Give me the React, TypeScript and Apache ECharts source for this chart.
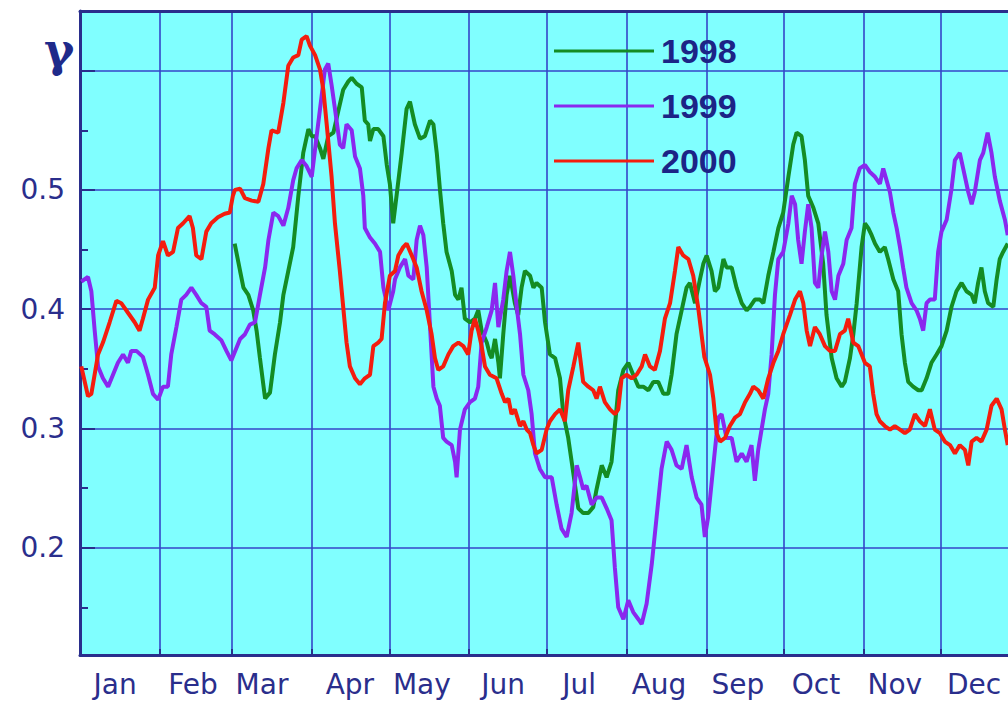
import React, { useEffect, useRef } from 'react';
import * as echarts from 'echarts';

const months = ['Jan', 'Feb', 'Mar', 'Apr', 'May', 'Jun', 'Jul', 'Aug', 'Sep', 'Oct', 'Nov', 'Dec'];
const monthStartDays = [31, 59, 90, 120, 151, 181, 212, 243, 273, 304, 334];
const monthLabelDays = [13.6, 43.8, 70.6, 104.7, 132.6, 164.1, 193.6, 224.6, 255.2, 285.5, 316.1, 346.8];
const yLabelValues = [0.2, 0.3, 0.4, 0.5];
const yMajorTicks = [0.2, 0.3, 0.4, 0.5, 0.6];
const yMinorTicks = [0.15, 0.25, 0.35, 0.45, 0.55];
const seriesNames = ['1998', '1999', '2000'];

const days1998 = [60.0, 62.1, 63.4, 65.3, 67.2, 68.5, 69.8, 71.8, 73.7, 75.6, 77.6, 78.9, 80.8, 82.7, 84.7, 86.6, 88.6, 89.9, 91.2, 93.1, 94.4, 96.3, 98.3, 100.2, 102.1, 104.1, 105.4, 107.3, 109.3, 110.5, 111.8, 112.5, 113.8, 115.7, 117.7, 119.0, 120.2, 121.5, 122.8, 124.8, 126.7, 128.0, 129.9, 131.9, 133.8, 135.8, 137.1, 138.4, 139.6, 140.9, 142.2, 144.2, 145.5, 146.8, 148.0, 149.3, 151.3, 153.2, 154.5, 155.8, 157.8, 159.0, 159.7, 161.0, 162.3, 162.9, 164.2, 165.5, 166.8, 168.7, 170.0, 171.3, 172.6, 174.6, 175.9, 177.1, 179.1, 180.4, 182.3, 184.3, 186.2, 187.5, 189.4, 191.4, 193.3, 195.2, 197.2, 199.1, 200.4, 202.4, 204.3, 206.2, 207.5, 208.8, 210.8, 212.7, 214.6, 216.6, 218.5, 220.5, 222.4, 224.3, 226.3, 228.2, 229.5, 231.4, 233.4, 235.3, 236.6, 238.6, 240.5, 241.8, 243.1, 245.0, 246.3, 247.6, 249.6, 250.8, 252.8, 254.7, 256.7, 258.6, 259.9, 261.8, 263.8, 265.1, 267.0, 269.0, 270.9, 272.8, 274.8, 276.7, 278.0, 279.9, 281.2, 282.5, 284.5, 286.4, 288.3, 289.6, 291.6, 293.5, 295.5, 296.7, 298.7, 300.0, 301.3, 303.2, 304.5, 305.8, 307.1, 308.4, 310.3, 312.2, 313.5, 315.5, 317.4, 318.7, 320.0, 321.3, 323.2, 325.2, 326.5, 328.4, 330.3, 332.3, 334.2, 336.2, 338.1, 340.0, 342.0, 343.9, 345.9, 347.1, 348.4, 349.7, 351.0, 352.3, 354.3, 355.6, 356.8, 358.1, 359.9];
const gamma1998 = [0.455, 0.432, 0.418, 0.412, 0.399, 0.382, 0.359, 0.325, 0.330, 0.362, 0.389, 0.412, 0.432, 0.452, 0.495, 0.531, 0.551, 0.545, 0.545, 0.535, 0.526, 0.545, 0.548, 0.566, 0.584, 0.591, 0.594, 0.589, 0.586, 0.558, 0.555, 0.541, 0.551, 0.551, 0.545, 0.521, 0.505, 0.472, 0.495, 0.531, 0.568, 0.574, 0.555, 0.543, 0.545, 0.558, 0.555, 0.531, 0.501, 0.472, 0.448, 0.432, 0.412, 0.408, 0.418, 0.392, 0.389, 0.392, 0.399, 0.382, 0.372, 0.362, 0.359, 0.375, 0.355, 0.342, 0.379, 0.412, 0.428, 0.405, 0.395, 0.418, 0.432, 0.428, 0.418, 0.422, 0.418, 0.389, 0.362, 0.359, 0.342, 0.312, 0.292, 0.262, 0.233, 0.229, 0.229, 0.234, 0.249, 0.269, 0.259, 0.272, 0.302, 0.332, 0.349, 0.355, 0.345, 0.335, 0.335, 0.332, 0.339, 0.339, 0.329, 0.329, 0.345, 0.379, 0.399, 0.418, 0.422, 0.405, 0.425, 0.438, 0.445, 0.432, 0.415, 0.418, 0.442, 0.435, 0.435, 0.418, 0.405, 0.399, 0.402, 0.408, 0.408, 0.405, 0.428, 0.448, 0.468, 0.481, 0.511, 0.538, 0.548, 0.545, 0.525, 0.495, 0.485, 0.472, 0.438, 0.395, 0.359, 0.342, 0.335, 0.339, 0.359, 0.379, 0.405, 0.452, 0.472, 0.468, 0.462, 0.455, 0.448, 0.452, 0.442, 0.425, 0.415, 0.379, 0.355, 0.339, 0.335, 0.332, 0.332, 0.342, 0.355, 0.362, 0.369, 0.382, 0.402, 0.415, 0.422, 0.415, 0.412, 0.405, 0.422, 0.435, 0.415, 0.405, 0.402, 0.425, 0.442, 0.448, 0.455];

const days1999 = [0.5, 3.1, 4.4, 5.7, 7.0, 8.9, 10.9, 12.8, 14.7, 16.7, 18.6, 19.9, 21.9, 24.4, 26.4, 28.3, 30.3, 32.2, 34.1, 35.4, 37.4, 39.3, 41.2, 43.2, 45.1, 47.1, 49.0, 50.3, 52.2, 54.8, 56.8, 58.7, 62.1, 64.0, 65.9, 67.9, 69.8, 71.8, 73.1, 75.0, 76.9, 78.9, 80.8, 82.7, 84.0, 86.0, 87.9, 89.9, 91.8, 93.7, 95.0, 96.3, 97.6, 98.9, 100.8, 102.1, 103.4, 105.4, 106.7, 108.6, 109.9, 110.5, 112.5, 114.4, 116.4, 117.7, 119.6, 121.5, 122.2, 124.1, 126.1, 127.4, 129.3, 130.6, 131.9, 133.2, 134.5, 135.8, 137.1, 138.4, 139.6, 140.9, 142.2, 144.2, 145.5, 146.1, 147.4, 149.3, 151.3, 153.2, 154.5, 155.8, 157.8, 159.7, 161.0, 162.3, 164.2, 165.5, 166.8, 168.1, 169.4, 170.7, 172.0, 173.9, 175.2, 176.5, 178.4, 180.4, 183.0, 184.9, 186.8, 188.8, 190.7, 192.7, 194.0, 195.2, 196.5, 198.5, 200.4, 202.4, 204.3, 206.2, 207.5, 208.8, 210.8, 212.7, 214.6, 216.6, 217.9, 219.8, 221.8, 223.7, 225.6, 227.6, 229.5, 231.4, 233.4, 235.3, 237.3, 239.2, 241.1, 242.4, 243.7, 245.7, 247.6, 248.9, 250.8, 252.8, 254.7, 256.7, 258.6, 260.5, 261.8, 263.1, 264.4, 265.7, 267.0, 268.3, 269.6, 270.9, 272.8, 274.8, 276.1, 277.4, 278.6, 279.9, 281.2, 282.5, 283.8, 285.1, 286.4, 287.7, 289.0, 290.3, 291.6, 292.9, 294.2, 296.1, 297.4, 299.3, 300.6, 302.5, 304.5, 306.4, 308.4, 310.3, 311.6, 312.9, 314.2, 315.5, 316.8, 318.1, 319.3, 320.6, 322.6, 324.5, 325.8, 327.1, 328.4, 329.7, 331.6, 332.9, 334.2, 336.2, 338.1, 339.4, 341.3, 342.6, 344.6, 345.9, 347.1, 349.1, 350.4, 352.1, 353.6, 354.9, 356.8, 358.8, 359.9];
const gamma1999 = [0.423, 0.427, 0.415, 0.382, 0.352, 0.342, 0.335, 0.345, 0.355, 0.362, 0.355, 0.365, 0.365, 0.360, 0.345, 0.329, 0.324, 0.335, 0.335, 0.362, 0.385, 0.408, 0.412, 0.418, 0.412, 0.405, 0.402, 0.382, 0.379, 0.374, 0.365, 0.357, 0.375, 0.379, 0.387, 0.389, 0.412, 0.435, 0.458, 0.481, 0.478, 0.470, 0.485, 0.508, 0.518, 0.525, 0.520, 0.511, 0.545, 0.578, 0.601, 0.606, 0.588, 0.568, 0.538, 0.535, 0.555, 0.550, 0.528, 0.518, 0.495, 0.468, 0.460, 0.455, 0.448, 0.418, 0.399, 0.415, 0.425, 0.435, 0.442, 0.428, 0.425, 0.458, 0.470, 0.462, 0.435, 0.385, 0.335, 0.325, 0.319, 0.292, 0.289, 0.286, 0.272, 0.259, 0.299, 0.316, 0.322, 0.325, 0.335, 0.372, 0.385, 0.399, 0.422, 0.385, 0.408, 0.432, 0.448, 0.428, 0.402, 0.379, 0.345, 0.332, 0.312, 0.279, 0.266, 0.259, 0.259, 0.236, 0.216, 0.209, 0.229, 0.269, 0.259, 0.249, 0.252, 0.236, 0.242, 0.242, 0.233, 0.223, 0.183, 0.150, 0.140, 0.156, 0.146, 0.140, 0.136, 0.153, 0.186, 0.226, 0.266, 0.289, 0.282, 0.269, 0.266, 0.286, 0.259, 0.242, 0.236, 0.209, 0.226, 0.269, 0.309, 0.312, 0.292, 0.292, 0.272, 0.279, 0.272, 0.286, 0.256, 0.282, 0.299, 0.316, 0.329, 0.362, 0.412, 0.442, 0.448, 0.472, 0.495, 0.488, 0.458, 0.438, 0.465, 0.488, 0.468, 0.422, 0.418, 0.445, 0.465, 0.448, 0.415, 0.408, 0.428, 0.438, 0.458, 0.468, 0.505, 0.518, 0.521, 0.515, 0.511, 0.505, 0.518, 0.508, 0.498, 0.481, 0.468, 0.452, 0.435, 0.418, 0.405, 0.399, 0.392, 0.382, 0.405, 0.408, 0.408, 0.448, 0.465, 0.475, 0.501, 0.525, 0.531, 0.518, 0.498, 0.488, 0.498, 0.525, 0.531, 0.548, 0.531, 0.511, 0.491, 0.475, 0.462];

const days2000 = [0.5, 3.1, 4.4, 7.0, 8.9, 11.5, 14.1, 16.0, 18.6, 21.2, 23.1, 24.4, 26.4, 29.0, 30.3, 32.2, 34.1, 36.1, 38.0, 40.0, 42.5, 43.8, 45.1, 47.1, 49.0, 50.9, 53.5, 56.1, 58.1, 59.3, 60.1, 62.1, 64.0, 66.6, 69.2, 71.1, 73.1, 74.3, 76.9, 78.9, 80.8, 82.7, 84.7, 86.0, 87.9, 89.2, 91.2, 93.1, 94.4, 95.7, 97.6, 98.9, 100.8, 102.1, 103.4, 104.7, 106.7, 108.6, 110.5, 112.5, 113.8, 115.7, 117.0, 118.3, 120.2, 122.2, 123.5, 125.4, 126.7, 128.7, 130.6, 132.5, 134.5, 136.4, 137.7, 139.0, 140.9, 142.9, 144.8, 146.8, 148.7, 150.6, 151.9, 153.2, 154.5, 155.8, 157.1, 159.0, 161.6, 163.6, 164.9, 166.2, 167.4, 168.7, 170.7, 172.0, 173.3, 174.6, 175.9, 177.1, 179.1, 181.0, 182.3, 184.3, 186.2, 188.1, 189.4, 191.4, 193.3, 195.2, 197.2, 199.1, 200.4, 201.7, 203.6, 205.6, 207.5, 208.8, 210.1, 212.0, 214.0, 215.9, 217.9, 219.2, 221.1, 223.0, 225.0, 226.9, 228.9, 230.8, 232.1, 234.0, 236.0, 237.9, 239.9, 242.2, 244.4, 245.7, 247.0, 248.3, 250.2, 252.1, 254.1, 256.0, 258.0, 259.9, 261.2, 263.1, 265.1, 267.0, 269.0, 270.9, 272.8, 275.4, 277.4, 279.3, 280.6, 281.9, 283.2, 285.1, 287.0, 289.0, 290.9, 292.9, 294.8, 296.7, 298.0, 300.0, 301.9, 304.5, 306.4, 307.7, 309.0, 310.3, 312.2, 314.2, 316.1, 318.1, 320.0, 321.9, 323.9, 325.8, 327.8, 329.7, 331.6, 333.6, 335.5, 337.5, 339.4, 341.3, 343.3, 344.6, 345.9, 347.8, 349.7, 351.7, 353.6, 355.6, 357.5, 358.8, 359.9];
const gamma2000 = [0.352, 0.327, 0.329, 0.362, 0.372, 0.389, 0.407, 0.405, 0.397, 0.389, 0.382, 0.392, 0.408, 0.418, 0.445, 0.457, 0.445, 0.448, 0.468, 0.472, 0.478, 0.468, 0.445, 0.442, 0.465, 0.472, 0.477, 0.480, 0.481, 0.495, 0.500, 0.501, 0.493, 0.491, 0.490, 0.505, 0.535, 0.550, 0.548, 0.573, 0.604, 0.611, 0.613, 0.626, 0.629, 0.621, 0.613, 0.601, 0.584, 0.555, 0.511, 0.472, 0.432, 0.402, 0.372, 0.352, 0.342, 0.337, 0.342, 0.345, 0.369, 0.372, 0.375, 0.405, 0.428, 0.432, 0.445, 0.452, 0.455, 0.445, 0.435, 0.415, 0.399, 0.379, 0.359, 0.349, 0.352, 0.362, 0.369, 0.372, 0.369, 0.362, 0.382, 0.392, 0.382, 0.369, 0.352, 0.345, 0.342, 0.329, 0.322, 0.325, 0.312, 0.316, 0.302, 0.306, 0.299, 0.296, 0.286, 0.279, 0.282, 0.299, 0.306, 0.312, 0.316, 0.306, 0.332, 0.352, 0.372, 0.339, 0.335, 0.332, 0.325, 0.335, 0.322, 0.316, 0.312, 0.316, 0.342, 0.345, 0.342, 0.345, 0.352, 0.362, 0.352, 0.349, 0.365, 0.392, 0.405, 0.432, 0.452, 0.445, 0.442, 0.428, 0.400, 0.360, 0.345, 0.325, 0.296, 0.289, 0.292, 0.302, 0.309, 0.312, 0.322, 0.329, 0.335, 0.332, 0.325, 0.342, 0.355, 0.365, 0.379, 0.395, 0.408, 0.415, 0.405, 0.382, 0.369, 0.385, 0.379, 0.369, 0.365, 0.365, 0.379, 0.382, 0.392, 0.372, 0.369, 0.355, 0.352, 0.329, 0.312, 0.306, 0.302, 0.299, 0.302, 0.299, 0.296, 0.299, 0.312, 0.306, 0.302, 0.316, 0.299, 0.296, 0.289, 0.286, 0.279, 0.286, 0.282, 0.269, 0.289, 0.292, 0.289, 0.299, 0.319, 0.325, 0.316, 0.299, 0.286];

const seriesColors = ['#148c24', '#8a28ee', '#f41d0e'];
const navy = '#2a2e8c';
const gridBlue = '#3446c8';

function pairs(xs: number[], ys: number[]) {
  return xs.map((x, i) => [x, ys[i]]);
}

export default function App() {
  const ref = useRef<HTMLDivElement>(null);
  useEffect(() => {
    if (!ref.current) return;
    const chart = echarts.init(ref.current, null, { renderer: 'svg' });
    const dataSets = [pairs(days1998, gamma1998), pairs(days1999, gamma1999), pairs(days2000, gamma2000)];
    chart.setOption({
      animation: false,
      backgroundColor: '#ffffff',
      title: {
        text: 'γ',
        left: 39,
        top: 22,
        textStyle: { fontSize: 46, fontFamily: 'DejaVu Serif', fontWeight: 'bold', color: '#1f2a8a' },
      },
      legend: {
        orient: 'vertical',
        left: 549,
        top: 29,
        itemWidth: 100,
        itemHeight: 3,
        itemGap: 21,
        icon: 'rect',
        selectedMode: false,
        data: seriesNames,
        textStyle: {
          fontSize: 34,
          fontWeight: 'bold',
          fontFamily: 'Liberation Sans',
          color: '#1c2486',
          lineHeight: 34,
          padding: [0, 0, 0, 2],
        },
      },
      grid: { left: 80, right: 0, top: 11, bottom: 49, show: true, backgroundColor: '#80ffff', borderWidth: 0 },
      xAxis: [
        {
          type: 'value',
          min: 0,
          max: 360,
          position: 'bottom',
          axisLine: { show: true, onZero: false, lineStyle: { color: navy, width: 3 } },
          axisTick: { show: true, inside: true, length: 6, customValues: monthStartDays, lineStyle: { color: navy, width: 2 } },
          splitLine: { show: true, lineStyle: { color: gridBlue, width: 1.6 } },
          axisLabel: {
            customValues: monthLabelDays,
            formatter: (v: number) => {
              const i = monthLabelDays.findIndex((d) => Math.abs(d - v) < 0.05);
              return i >= 0 ? months[i] : '';
            },
            fontSize: 28,
            fontFamily: 'DejaVu Sans',
            color: navy,
            margin: 15,
          },
        },
        {
          type: 'value',
          min: 0,
          max: 360,
          position: 'top',
          axisLine: { show: true, onZero: false, lineStyle: { color: navy, width: 3 } },
          axisTick: { show: false },
          axisLabel: { show: false },
          splitLine: { show: false },
        },
      ],
      yAxis: [
        {
          type: 'value',
          min: 0.11,
          max: 0.65,
          position: 'left',
          axisLine: { show: true, onZero: false, lineStyle: { color: navy, width: 3 } },
          axisTick: { show: true, inside: true, length: 15, customValues: yMajorTicks, lineStyle: { color: navy, width: 2 } },
          splitLine: { show: true, lineStyle: { color: gridBlue, width: 1.6 } },
          axisLabel: {
            customValues: yLabelValues,
            formatter: (v: number) => v.toFixed(1),
            fontSize: 28,
            fontFamily: 'DejaVu Sans',
            color: navy,
            margin: 15,
          },
        },
        {
          type: 'value',
          min: 0.11,
          max: 0.65,
          position: 'left',
          axisLine: { show: false },
          axisTick: { show: true, inside: true, length: 8, customValues: yMinorTicks, lineStyle: { color: navy, width: 2 } },
          axisLabel: { show: false },
          splitLine: { show: false },
        },
      ],
      series: seriesNames.map((name, i) => ({
        name,
        type: 'line',
        xAxisIndex: 0,
        yAxisIndex: 0,
        data: dataSets[i],
        symbol: 'none',
        showSymbol: false,
        lineStyle: { color: seriesColors[i], width: 4 },
        itemStyle: { color: seriesColors[i] },
      })),
    });
    return () => chart.dispose();
  }, []);
  return <div ref={ref} style={{ position: 'fixed', left: 0, top: 0, width: 1008, height: 704 }} />;
}
